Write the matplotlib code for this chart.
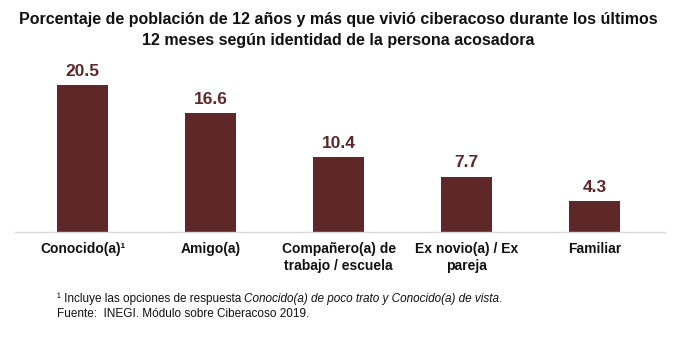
import matplotlib
matplotlib.use("Agg")
import matplotlib.pyplot as plt

plt.rcParams["font.family"] = ["Liberation Sans", "DejaVu Sans"]

categories = ["Conocido(a)¹", "Amigo(a)", "Compañero(a) de\ntrabajo / escuela",
              "Ex novio(a) / Ex\npareja", "Familiar"]
values = [20.5, 16.6, 10.4, 7.7, 4.3]

title = ("Porcentaje de población de 12 años y más que vivió ciberacoso durante los últimos\n"
         "12 meses según identidad de la persona acosadora")
bar_color = "#5E2728"
text_color = "#111111"

fig = plt.figure(figsize=(6.77, 3.44), dpi=100)
ax = fig.add_axes([0.022, 0.326, 0.960, 0.458])

x = list(range(len(categories)))
ax.bar(x, values, width=0.40, color=bar_color)
for xi, v in zip(x, values):
    ax.text(xi, v + 0.9, f"{v:.1f}", ha="center", va="bottom",
            fontsize=12.5, fontweight="bold", color=bar_color)

ax.set_xlim(-0.53, 4.55)
ax.set_ylim(0, 22)
ax.set_yticks([])
ax.set_xticks(x)
ax.set_xticklabels(categories, fontsize=10, fontweight="bold", color=text_color,
                   linespacing=1.3, va="top")
ax.tick_params(axis="x", length=0, pad=7)
for side in ["top", "right", "left"]:
    ax.spines[side].set_visible(False)
ax.spines["bottom"].set_color("#d9d9d9")
ax.spines["bottom"].set_linewidth(1)

fig.text(0.5, 0.966, title, ha="center", va="top", fontsize=11.5,
         fontweight="bold", color=text_color, linespacing=1.5)

# footnote: plain text, italic segment, closing period
fs = 8.5
y1, y2 = 0.122, 0.078
fig.canvas.draw()
r = fig.canvas.get_renderer()
t1 = fig.text(0.084, y1, "¹ Incluye las opciones de respuesta ", fontsize=fs,
              color=text_color, va="baseline")
x2 = t1.get_window_extent(r).x1 / fig.bbox.width
t2 = fig.text(x2, y1, "Conocido(a) de poco trato y Conocido(a) de vista",
              fontsize=fs, style="italic", color=text_color, va="baseline")
x3 = t2.get_window_extent(r).x1 / fig.bbox.width
fig.text(x3, y1, ".", fontsize=fs, color=text_color, va="baseline")
fig.text(0.084, y2, "Fuente:  INEGI. Módulo sobre Ciberacoso 2019.", fontsize=fs,
         color=text_color, va="baseline")

fig.savefig("out.png", dpi=100, facecolor="white")
